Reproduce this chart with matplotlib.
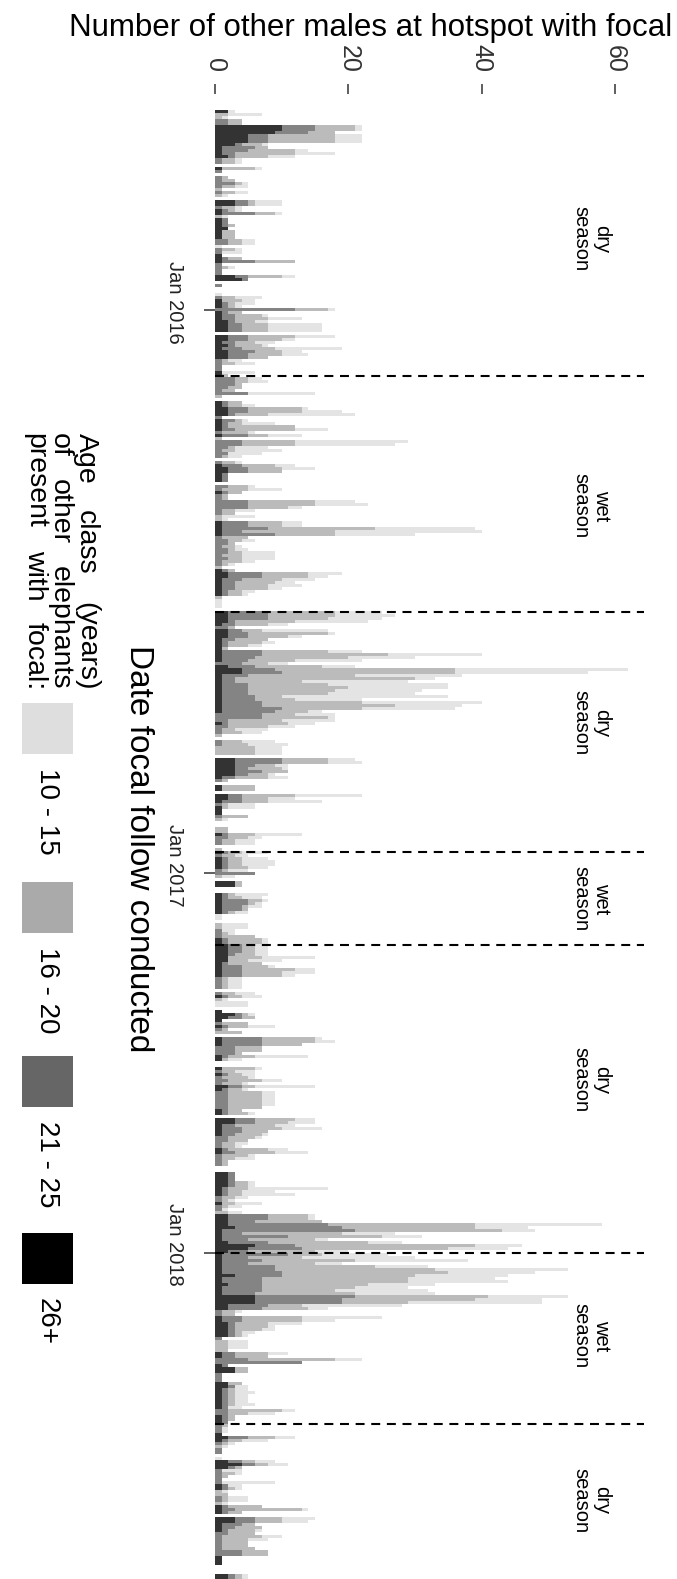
import numpy as np
import matplotlib.pyplot as plt
from matplotlib.patches import Rectangle
from matplotlib.transforms import ScaledTranslation

plt.rcParams['font.family'] = ['Liberation Sans', 'DejaVu Sans']

# number of other males with the focal, per focal follow (date order), by age class
age_26_plus = [
    2,0,0,0,0,10,10,9,5,5, 5,3,1,1,1,2,0,0,0,1, 0,0,0,0,0,0,0,0,0,0, 3,3,0,1,1,0,1,1,1,2, 1,1,
    1,0,0,0,0,0,1,1,1,0, 0,0,0,3,4,0,0,0,0,0, 0,1,1,1,0,1,1,1,2,2, 2,2,0,2,2,1,2,1,2,2, 2,0,0,0,0,
    1,1,0,0,0,0,0,0,0,0, 1,1,2,2,2,0,1,1,1,1, 0,1,0,0,0,0,0,0,0,0, 0,1,2,2,1,1,1,0,0,0, 1,0,0,0,0,
    0,0,0,0,0,1,1,1,1,1, 0,0,0,0,0,0,0,0,0,0, 0,1,2,2,1,1,1,1,1,1, 0,0,0,0,0,2,2,2,2,1, 0,2,2,2,1,
    1,1,1,1,1,1,1,0,2,4, 4,1,1,1,1,1,1,1,1,1, 1,1,1,1,0,0,0,1,0,0, 0,0,0,0,0,0,0,0,0,3, 3,3,3,3,3,
    1,0,0,1,1,0,2,2,1,0, 1,1,1,0,0,0,0,0,0,1, 0,0,0,0,0,1,0,1,1,1, 1,0,0,0,0,3,3,0,0,1, 1,1,1,1,1,
    1,0,0,0,0,0,0,0,0,1, 1,2,2,2,2,2,2,1,1,1, 1,1,0,0,0,0,0,0,1,0, 0,0,0,1,3,2,1,0,1,0, 0,0,1,1,1,
    0,0,0,1,1,0,0,1,0,1, 0,0,0,2,1,0,0,0,0,0, 0,1,1,0,3,3,1,1,1,1, 0,0,0,0,1,1,0,0,0,0, 0,0,2,2,2,
    2,2,1,1,1,0,0,1,0,0, 0,2,2,2,2,3,1,1,1,1, 2,6,5,2,1,1,1,1,1,1, 1,3,1,1,2,1,1,1,6,6, 6,2,2,0,0,
    1,1,2,2,2,2,2,0,0,0, 0,0,1,1,0,0,1,3,3,0, 0,0,2,2,1,1,1,1,1,1, 1,0,0,1,1,1,0,0,0,1, 2,1,0,0,0,
    0,0,0,2,4,2,0,0,0,0, 0,1,1,0,0,0,0,0,1,1, 1,0,3,3,1,1,1,0,0,0, 0,0,0,0,0,1,1,1,0,0, 0,2,2,
]
age_21_25 = [
    0,0,0,2,2,5,5,5,3,3, 3,1,5,4,2,1,1,1,0,0, 1,0,1,1,3,1,0,1,0,0, 2,2,1,1,5,0,1,1,1,0, 0,0,
    0,2,2,0,1,1,0,1,5,1, 1,1,1,2,1,0,1,0,0,0, 1,0,1,1,12,1,2,2,1,2, 2,2,0,3,3,2,1,3,4,3, 3,1,1,1,1,
    0,0,3,3,3,2,1,5,0,0, 1,1,3,3,1,1,2,1,1,2, 1,4,0,4,4,2,1,2,1,0, 1,3,3,3,1,1,1,0,2,1, 1,1,1,5,5,
    5,1,1,0,0,4,4,7,3,8, 1,2,2,1,2,2,1,2,1,1, 0,1,5,5,3,2,2,2,1,1, 0,0,0,0,0,6,6,6,1,2, 2,2,3,3,2,
    1,1,0,6,6,5,4,4,4,5, 6,4,2,2,4,4,4,4,5,5, 6,6,9,8,7,7,2,1,2,1, 1,0,0,1,1,0,0,0,0,7, 7,3,2,4,2,
    2,1,0,0,0,0,2,2,3,1, 0,0,0,1,0,0,0,0,0,1, 2,1,1,0,0,1,1,1,1,1, 1,1,6,0,0,0,0,0,0,1, 1,4,4,3,3,
    1,0,0,0,0,0,1,1,1,1, 1,2,2,2,1,0,0,1,3,3, 3,3,1,1,1,1,0,1,1,0, 0,0,0,0,1,2,0,1,1,1, 0,0,6,6,6,
    3,3,3,1,0,0,0,0,1,1, 1,2,1,2,1,2,2,2,2,2, 2,1,1,0,3,3,2,3,3,2, 2,2,1,1,1,2,1,1,1,1, 0,0,1,1,1,
    1,1,1,1,1,1,1,0,1,1, 0,6,6,4,15,16,20,3,10,4, 6,6,8,3,10,4,6,4,8,8, 9,7,6,6,5,6,6,5,15,13, 13,6,5,1,1,
    3,3,1,1,1,1,1,1,0,0, 0,0,2,2,5,13,1,0,0,1, 1,1,0,1,1,1,1,1,1,1, 1,2,2,1,1,1,1,1,1,0, 3,1,1,0,1,
    1,0,0,2,2,1,1,1,1,1, 1,1,1,0,0,1,1,0,1,2, 1,0,3,3,3,2,1,2,1,1, 1,1,1,4,4,0,0,0,0,0, 0,1,1,
]
age_16_20 = [
    0,2,1,2,2,6,6,4,10,10, 10,3,2,7,9,5,2,2,0,5, 0,0,1,2,1,2,1,2,1,0, 1,1,2,1,3,1,0,0,1,0, 2,2,
    2,2,2,0,2,0,0,2,6,0, 1,0,0,5,0,0,0,0,0,0, 2,3,1,1,5,2,4,5,3,4, 4,4,0,7,5,3,4,5,4,5, 3,1,2,0,0,
    0,1,2,2,1,2,2,0,1,0, 2,2,8,8,5,0,1,2,10,9, 4,3,1,8,8,1,2,0,1,0, 2,5,5,5,0,0,0,0,3,4, 2,1,1,10,10,
    6,2,2,1,1,5,5,16,14,9, 4,2,1,2,1,2,3,2,3,1, 1,1,7,7,6,6,5,5,2,2, 1,0,0,0,0,10,10,9,9,5, 1,3,12,6,5,
    5,3,1,10,19,14,7,4,10,27, 26,16,27,10,12,15,13,12,4,6, 15,20,12,5,5,10,8,9,6,2, 3,1,0,3,4,6,6,6,0,7, 7,3,5,4,3,
    5,1,0,5,5,0,8,4,4,1, 1,0,0,4,1,0,0,2,2,4, 3,2,2,0,1,2,2,2,2,2, 3,1,0,1,0,1,1,0,0,1, 2,2,1,1,1,
    1,0,0,0,1,1,0,1,5,5, 5,2,2,2,3,5,3,5,4,8, 6,6,1,1,1,1,0,2,2,1, 0,0,0,0,1,2,0,4,3,1, 4,0,8,8,6,
    4,4,1,4,1,0,0,5,2,2, 4,5,3,2,2,5,5,5,5,5, 5,2,3,0,6,5,6,6,4,4, 4,3,2,2,6,6,4,2,1,1, 0,0,0,0,0,
    2,2,3,2,2,2,1,2,1,0, 2,6,6,10,22,20,22,15,14,10, 15,27,22,10,5,8,14,10,15,24, 25,20,22,22,16,14,11,15,20,20, 10,5,7,2,2,
    9,9,5,5,4,1,1,0,2,2, 2,2,5,5,13,0,0,2,2,0, 0,0,2,0,1,1,1,1,1,1, 0,8,3,1,1,0,1,0,0,0, 4,2,1,1,0,
    0,0,0,2,2,1,0,2,1,0, 0,0,1,1,2,1,1,1,5,10, 2,0,4,4,2,4,4,4,6,4, 4,4,5,4,4,0,0,0,0,0, 0,1,1,
]
age_10_15 = [
    1,5,1,0,0,1,1,0,4,4, 4,1,0,2,6,4,1,1,0,1, 0,0,0,0,1,2,0,2,1,0, 4,4,1,1,1,1,0,0,0,0, 0,0,
    0,2,2,1,1,3,0,0,0,0, 1,0,0,2,0,0,0,0,0,1, 4,2,3,1,1,0,1,5,2,8, 8,8,0,6,2,3,1,10,3,4, 0,2,3,0,0,
    5,0,2,3,0,0,0,10,0,0, 0,2,1,6,13,0,1,5,0,5, 1,5,0,17,15,5,7,5,2,0, 1,3,5,0,0,0,0,0,1,5, 0,0,0,6,8,
    2,3,0,5,1,3,3,15,22,12, 0,2,0,1,2,5,5,5,2,1, 0,0,5,3,5,3,5,2,2,1, 0,1,1,1,0,7,9,8,11,3, 0,10,1,2,0,
    2,2,0,5,14,10,10,3,5,26, 20,16,3,16,18,15,13,13,25,10, 18,10,14,2,6,1,8,4,4,5, 3,0,0,5,6,4,4,4,0,4, 5,2,1,0,1,
    3,0,0,0,0,0,10,4,8,4, 4,0,0,0,1,0,0,0,0,7, 2,3,3,0,0,4,2,4,5,5, 3,3,0,2,0,0,0,0,0,5, 3,1,1,2,0,
    2,1,1,0,4,4,2,1,0,1, 1,2,2,2,2,8,5,0,1,3, 5,2,2,2,2,2,0,3,3,1, 5,5,0,0,1,0,0,0,4,0, 0,0,1,3,0,
    0,0,0,8,2,0,0,1,3,2, 1,3,1,9,1,2,2,2,2,2, 0,0,1,0,3,4,3,6,0,1, 1,0,2,1,3,5,1,3,0,0, 0,0,0,0,0,
    1,1,12,5,8,2,1,4,2,1, 2,1,1,0,19,8,5,8,6,2, 5,7,9,5,10,17,17,4,8,20, 13,14,13,15,10,8,14,12,12,10, 20,15,3,1,0,
    12,5,5,1,2,2,1,0,3,3, 3,0,3,0,4,0,0,0,0,0, 0,0,0,2,2,3,2,2,2,3, 2,2,4,0,0,0,0,1,1,0, 3,4,1,1,0,
    0,0,1,3,3,0,3,1,0,0, 8,2,1,1,0,3,3,1,0,1, 0,0,5,4,0,0,1,0,3,3, 0,0,0,0,0,0,0,0,0,0, 0,1,1,
]

class_labels = ['10 - 15', '16 - 20', '21 - 25', '26+']
class_colors = ['#dedede', '#aaaaaa', '#666666', '#000000']

# position along the follow index
year_ticks = [66.3, 253.9, 380.4]
year_labels = ['Jan 2016', 'Jan 2017', 'Jan 2018']
season_breaks = [88.1, 166.7, 246.8, 277.8, 380.4, 437.4]
season_names = ['dry', 'wet', 'dry', 'wet', 'dry', 'wet', 'dry']
season_mid = [42.5, 131.5, 203.7, 262.3, 322.8, 408, 463]

legend_title = ['Age class (years)', 'of other elephants', 'present with focal:']

n = len(age_26_plus)
assert n == len(age_21_25) == len(age_16_20) == len(age_10_15)
idx = np.arange(n)

W, H = 677, 1579
fig = plt.figure(figsize=(W / 100, H / 100), dpi=100)

# panel: left edge at 215px, top at 94px, 3px per follow, 6.667px per male
ax = fig.add_axes([215 / W, 0, (W - 215) / W, (H - 94) / H])
ax.set_xlim(0, (W - 215) / 6.667)
ax.set_ylim(n - 0.5 - (1580 - H) / 3, -0.5 - (110 - 94) / 3)

stack = [age_26_plus, age_21_25, age_16_20, age_10_15]
cols = class_colors[::-1]
left = np.zeros(n)
for vals, c in zip(stack, cols):
    vals = np.array(vals)
    ax.barh(idx, vals, left=left, height=1.0, color=c, alpha=0.8, linewidth=0)
    left += vals

ax.hlines(season_breaks, 0, 64.4, colors='black', linewidth=1.5,
          linestyles=(0, (4.3, 3.2)))

for name, pos in zip(season_names, season_mid):
    ax.text(56.4, pos, name + '\nseason', rotation=-90, ha='center', va='center',
            ma='center', fontsize=14.5, linespacing=1.1)

ax.xaxis.tick_top()
ax.set_xticks([0, 20, 40, 60])
ax.tick_params(axis='x', length=7.5, width=1.1, color='#333333', labelsize=18,
               labelcolor='#333333', pad=8, labelrotation=-90)
ax.set_yticks(year_ticks, year_labels)
ax.tick_params(axis='y', length=8, width=1.1, color='#333333', labelsize=14.5,
               labelcolor='#222222', pad=14, labelrotation=-90)
shift_up = ScaledTranslation(0, 8 / 100, fig.dpi_scale_trans)
for t in ax.get_yticklabels():
    t.set_va('center')
    t.set_transform(t.get_transform() + shift_up)
for s in ax.spines.values():
    s.set_visible(False)

# overlay in pixel coordinates for titles and the legend
lax = fig.add_axes([0, 0, 1, 1])
lax.set_xlim(0, W)
lax.set_ylim(H, 0)
lax.set_axis_off()

lax.text(371, 28, 'Number of other males at hotspot with focal', ha='center',
         va='center', fontsize=22.5)
lax.text(138, 849, 'Date focal follow conducted', rotation=-90, ha='center',
         va='center', fontsize=24)

# legend title, each line justified between y0 and y1
renderer = fig.canvas.get_renderer()
y0, y1 = 433, 690
for line, x in zip(legend_title, [86, 60, 35]):
    words = [lax.text(x, y0, w, rotation=-90, ha='center', va='top', fontsize=20.5)
             for w in line.split()]
    lens = [w.get_window_extent(renderer).height for w in words]
    gap = (y1 - y0 - sum(lens)) / (len(words) - 1)
    y = y0
    for w, L in zip(words, lens):
        w.set_y(y)
        y += L + gap

key_y = [703, 882, 1056, 1233]
for lab, c, y in zip(class_labels, class_colors, key_y):
    lax.add_patch(Rectangle((22, y), 51, 51, facecolor=c, edgecolor='none'))
    lax.text(47, y + 65, lab, rotation=-90, ha='center', va='top', fontsize=20)

fig.savefig('out.png', dpi=100)
